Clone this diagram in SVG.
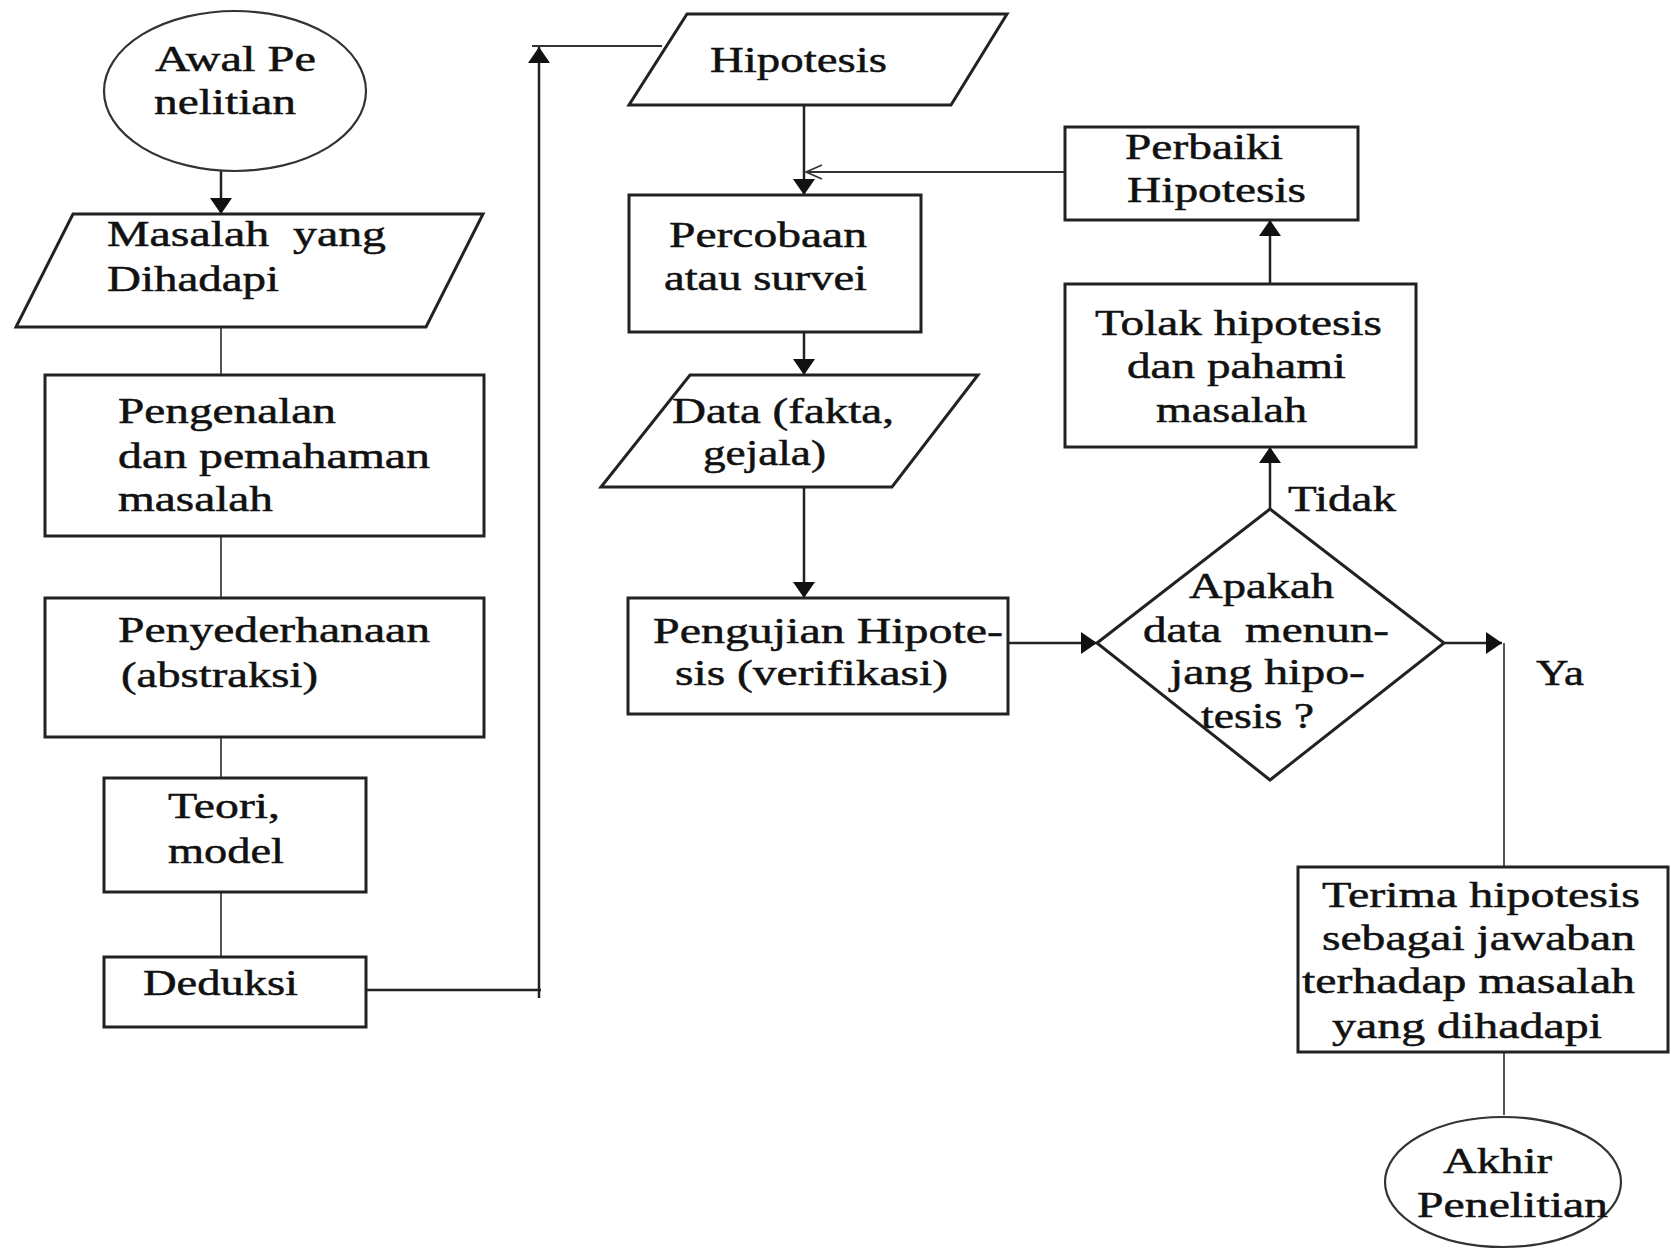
<svg xmlns="http://www.w3.org/2000/svg" width="1671" height="1249" viewBox="0 0 1671 1249">
<style>
.box{fill:#fff;stroke:#222;stroke-width:3}
.ell{fill:#fff;stroke:#333;stroke-width:2.2}
.t{font-family:'Liberation Serif','Times New Roman',Times,serif;font-size:36px;fill:#111;stroke:#111;stroke-width:0.5}
.pre{white-space:pre}
.c{fill:none;stroke:#222;stroke-width:2.5}
.g{fill:none;stroke:#555;stroke-width:2}
.thin{fill:none;stroke:#333;stroke-width:1.8}
</style>
<defs>
<marker id="arr" markerUnits="userSpaceOnUse" markerWidth="16" markerHeight="22" viewBox="0 0 16 22" refX="16" refY="11" orient="auto"><path d="M0,0 L16,11 L0,22 z" fill="#111"/></marker>
<marker id="open" markerUnits="userSpaceOnUse" markerWidth="20" markerHeight="16" viewBox="0 0 20 16" refX="18" refY="8" orient="auto"><path d="M2,1 L18,8 L2,15" fill="none" stroke="#333" stroke-width="1.8"/></marker>
</defs>

<g id="connectors">
<path class="c" d="M221,171 V214" marker-end="url(#arr)"/>
<path class="g" d="M221,327 V375"/>
<path class="g" d="M221,536 V598"/>
<path class="g" d="M221,737 V778"/>
<path class="g" d="M221,892 V957"/>
<path class="c" d="M366,990 H541"/>
<path class="c" d="M539,998 V47" marker-end="url(#arr)"/>
<path class="thin" d="M532,46 H662"/>
<path class="c" d="M804,105 V195" marker-end="url(#arr)"/>
<path class="c" d="M804,332 V375" marker-end="url(#arr)"/>
<path class="c" d="M804,487 V598" marker-end="url(#arr)"/>
<path class="c" d="M1008,643 H1097" marker-end="url(#arr)"/>
<path class="c" d="M1270,509 V447" marker-end="url(#arr)"/>
<path class="c" d="M1270,284 V220" marker-end="url(#arr)"/>
<path class="thin" d="M1065,172 H806" marker-end="url(#open)"/>
<path class="c" d="M1444,643 H1502" marker-end="url(#arr)"/>
<path class="g" d="M1504,643 V867"/>
<path class="g" d="M1504,1052 V1115"/>
</g>

<g id="awal">
<ellipse class="ell" cx="235" cy="91" rx="131" ry="80"/>
<text class="t" x="155" y="71" textLength="161" lengthAdjust="spacingAndGlyphs">Awal Pe</text>
<text class="t" x="154" y="114" textLength="142" lengthAdjust="spacingAndGlyphs">nelitian</text>
</g>

<g id="masalah">
<polygon class="box" points="73,214 483,214 426,327 16,327"/>
<text class="t pre" x="107" y="246" textLength="279" lengthAdjust="spacingAndGlyphs">Masalah  yang</text>
<text class="t" x="107" y="291" textLength="172" lengthAdjust="spacingAndGlyphs">Dihadapi</text>
</g>

<g id="pengenalan">
<rect class="box" x="45" y="375" width="439" height="161"/>
<text class="t" x="118" y="423" textLength="218" lengthAdjust="spacingAndGlyphs">Pengenalan</text>
<text class="t" x="118" y="468" textLength="312" lengthAdjust="spacingAndGlyphs">dan pemahaman</text>
<text class="t" x="118" y="511" textLength="155" lengthAdjust="spacingAndGlyphs">masalah</text>
</g>

<g id="penyederhanaan">
<rect class="box" x="45" y="598" width="439" height="139"/>
<text class="t" x="118" y="642" textLength="312" lengthAdjust="spacingAndGlyphs">Penyederhanaan</text>
<text class="t" x="121" y="687" textLength="197" lengthAdjust="spacingAndGlyphs">(abstraksi)</text>
</g>

<g id="teori">
<rect class="box" x="104" y="778" width="262" height="114"/>
<text class="t" x="168" y="818" textLength="112" lengthAdjust="spacingAndGlyphs">Teori,</text>
<text class="t" x="168" y="863" textLength="116" lengthAdjust="spacingAndGlyphs">model</text>
</g>

<g id="deduksi">
<rect class="box" x="104" y="957" width="262" height="70"/>
<text class="t" x="143" y="995" textLength="155" lengthAdjust="spacingAndGlyphs">Deduksi</text>
</g>

<g id="hipotesis">
<polygon class="box" points="687,14 1007,14 951,105 629,105"/>
<text class="t" x="710" y="72" textLength="177" lengthAdjust="spacingAndGlyphs">Hipotesis</text>
</g>

<g id="percobaan">
<rect class="box" x="629" y="195" width="292" height="137"/>
<text class="t" x="669" y="247" textLength="198" lengthAdjust="spacingAndGlyphs">Percobaan</text>
<text class="t" x="664" y="290" textLength="203" lengthAdjust="spacingAndGlyphs">atau survei</text>
</g>

<g id="data">
<polygon class="box" points="690,375 978,375 892,487 601,487"/>
<text class="t" x="672" y="423" textLength="222" lengthAdjust="spacingAndGlyphs">Data (fakta,</text>
<text class="t" x="703" y="465" textLength="123" lengthAdjust="spacingAndGlyphs">gejala)</text>
</g>

<g id="pengujian">
<rect class="box" x="628" y="598" width="380" height="116"/>
<text class="t" x="653" y="643" textLength="350" lengthAdjust="spacingAndGlyphs">Pengujian Hipote-</text>
<text class="t" x="675" y="685" textLength="273" lengthAdjust="spacingAndGlyphs">sis (verifikasi)</text>
</g>

<g id="keputusan">
<polygon class="box" points="1097,643 1270,509 1444,643 1270,780"/>
<text class="t" x="1189" y="598" textLength="145" lengthAdjust="spacingAndGlyphs">Apakah</text>
<text class="t pre" x="1143" y="642" textLength="246" lengthAdjust="spacingAndGlyphs">data  menun-</text>
<text class="t" x="1170" y="684" textLength="195" lengthAdjust="spacingAndGlyphs">jang hipo-</text>
<text class="t" x="1201" y="728" textLength="113" lengthAdjust="spacingAndGlyphs">tesis ?</text>
</g>

<g id="labels">
<text class="t" x="1288" y="511" textLength="108" lengthAdjust="spacingAndGlyphs">Tidak</text>
<text class="t" x="1536" y="685" textLength="48" lengthAdjust="spacingAndGlyphs">Ya</text>
</g>

<g id="perbaiki">
<rect class="box" x="1065" y="127" width="293" height="93"/>
<text class="t" x="1125" y="159" textLength="158" lengthAdjust="spacingAndGlyphs">Perbaiki</text>
<text class="t" x="1127" y="202" textLength="179" lengthAdjust="spacingAndGlyphs">Hipotesis</text>
</g>

<g id="tolak">
<rect class="box" x="1065" y="284" width="351" height="163"/>
<text class="t" x="1095" y="335" textLength="287" lengthAdjust="spacingAndGlyphs">Tolak hipotesis</text>
<text class="t" x="1127" y="378" textLength="219" lengthAdjust="spacingAndGlyphs">dan pahami</text>
<text class="t" x="1156" y="422" textLength="151" lengthAdjust="spacingAndGlyphs">masalah</text>
</g>

<g id="terima">
<rect class="box" x="1298" y="867" width="370" height="185"/>
<text class="t" x="1322" y="907" textLength="318" lengthAdjust="spacingAndGlyphs">Terima hipotesis</text>
<text class="t" x="1322" y="950" textLength="313" lengthAdjust="spacingAndGlyphs">sebagai jawaban</text>
<text class="t" x="1302" y="993" textLength="333" lengthAdjust="spacingAndGlyphs">terhadap masalah</text>
<text class="t" x="1332" y="1038" textLength="270" lengthAdjust="spacingAndGlyphs">yang dihadapi</text>
</g>

<g id="akhir">
<ellipse class="ell" cx="1503" cy="1182" rx="118" ry="65"/>
<text class="t" x="1443" y="1173" textLength="109" lengthAdjust="spacingAndGlyphs">Akhir</text>
<text class="t" x="1417" y="1217" textLength="191" lengthAdjust="spacingAndGlyphs">Penelitian</text>
</g>
</svg>
